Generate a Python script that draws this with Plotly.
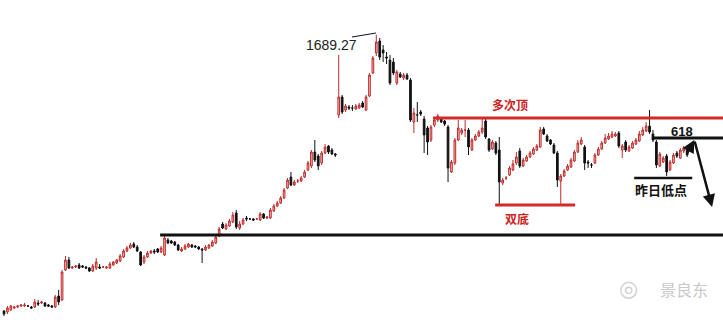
import plotly.graph_objects as go

open_ = [1413,1412,1414,1416,1417,1418,1418,1418,1417,1417,
         1421,1421,1421,1419,1418,1417,1428,1424,1454,1464,
         1456,1457,1459,1458,1457,1456,1453,1456,1457,1457,
         1456,1456,1459,1461,1463,1467,1473,1476,1480,1477,
         1472,1462,1467,1471,1473,1475,1472,1469,1484,1483,
         1482,1479,1473,1475,1477,1479,1478,1477,1475,1474,
         1476,1478,1481,1488,1500,1495,1498,1502,1511,1496,
         1500,1506,1505,1505,1505,1504,1510,1506,1506,1513,
         1518,1521,1526,1536,1547,1539,1543,1543,1547,1554,
         1558,1572,1568,1561,1571,1578,1574,1570,1609,1627,
         1614,1617,1616,1615,1616,1621,1614,1628,1651,1671,
         1683,1674,1667,1664,1662,1641,1650,1646,1649,1644,
         1602,1609,1612,1605,1596,1584,1599,1604,1606,1603,
         1597,1552,1561,1584,1591,1594,1594,1574,1584,1588,
         1592,1603,1585,1575,1581,1574,1541,1546,1549,1554,
         1561,1573,1558,1563,1567,1570,1574,1577,1595,1588,
         1584,1579,1571,1543,1548,1554,1557,1563,1572,1580,
         1577,1562,1559,1561,1569,1575,1581,1585,1587,1588,
         1591,1574,1582,1573,1576,1580,1583,1589,1593,1598,
         1590,1582,1558,1562,1568,1554,1561,1571,1566,1573,1574]

close = [1410,1416,1418,1417,1418,1419,1419,1418,1416,1422,
         1420,1422,1418,1418,1417,1427,1422,1452,1464,1456,
         1457,1458,1456,1457,1456,1453,1458,1462,1456,1457,
         1457,1460,1462,1464,1468,1473,1476,1479,1477,1473,
         1459,1467,1471,1473,1472,1472,1476,1486,1481,1481,
         1479,1474,1475,1478,1480,1477,1477,1475,1474,1477,
         1479,1482,1487,1495,1496,1499,1503,1509,1497,1500,
         1504,1505,1505,1504,1505,1510,1506,1507,1514,1518,
         1521,1526,1534,1544,1539,1542,1543,1546,1552,1561,
         1572,1564,1558,1571,1577,1572,1570,1569,1627,1612,
         1618,1616,1616,1618,1619,1617,1627,1649,1666,1682,
         1667,1671,1666,1641,1651,1652,1647,1649,1645,1604,
         1611,1609,1610,1589,1582,1597,1604,1608,1602,1600,
         1556,1562,1584,1596,1594,1594,1577,1584,1588,1592,
         1596,1587,1574,1582,1571,1542,1544,1546,1556,1560,
         1567,1558,1564,1567,1571,1575,1578,1594,1590,1583,
         1580,1571,1544,1548,1553,1558,1564,1572,1581,1584,
         1561,1561,1559,1569,1575,1581,1586,1588,1590,1590,
         1578,1578,1574,1577,1581,1584,1590,1594,1598,1592,
         1584,1559,1570,1566,1552,1562,1569,1568,1574,1576,1569]

high = [1414,1418,1419,1418,1419,1420,1421,1419,1418,1425,
        1424,1423,1422,1420,1419,1429,1434,1454,1468,1467,
        1458,1459,1461,1459,1458,1457,1460,1466,1460,1458,
        1458,1462,1463,1465,1470,1475,1478,1481,1482,1479,
        1473,1469,1473,1474,1475,1476,1478,1488,1486,1484,
        1483,1480,1477,1480,1481,1480,1479,1478,1476,1479,
        1480,1484,1489,1497,1502,1501,1505,1512,1514,1503,
        1506,1508,1506,1506,1506,1512,1511,1508,1516,1520,
        1523,1528,1536,1546,1552,1544,1545,1548,1554,1563,
        1574,1584,1570,1573,1580,1579,1576,1571,1669,1629,
        1620,1619,1619,1620,1621,1623,1629,1651,1668,1689.27,
        1686,1679,1672,1669,1666,1654,1652,1651,1651,1646,
        1616,1622,1614,1608,1598,1599,1606,1610,1607,1604,
        1599,1564,1586,1604,1596,1604,1596,1586,1590,1594,
        1606,1606,1586,1584,1583,1587,1546,1548,1558,1564,
        1572,1576,1566,1569,1573,1577,1580,1597,1597,1590,
        1585,1581,1573,1550,1555,1560,1566,1574,1584,1587,
        1579,1564,1561,1571,1577,1583,1590,1591,1593,1592,
        1593,1580,1584,1579,1583,1586,1593,1597,1602,1614,
        1594,1584,1572,1568,1570,1564,1571,1573,1576,1578,1576]

low = [1408,1410,1413,1415,1416,1417,1417,1417,1415,1416,
       1418,1420,1417,1417,1416,1416,1419,1423,1453,1455,
       1455,1456,1455,1456,1455,1452,1452,1454,1455,1456,
       1455,1455,1458,1460,1462,1466,1472,1475,1476,1472,
       1458,1460,1466,1470,1470,1471,1471,1468,1480,1480,
       1478,1473,1472,1474,1476,1476,1476,1474,1461,1473,
       1475,1477,1480,1487,1495,1494,1497,1501,1495,1494,
       1499,1503,1504,1503,1504,1503,1505,1505,1505,1512,
       1517,1520,1525,1535,1538,1538,1541,1542,1546,1553,
       1556,1562,1554,1559,1570,1570,1569,1567,1606,1610,
       1612,1614,1613,1614,1615,1616,1613,1627,1650,1668,
       1664,1662,1660,1639,1649,1639,1646,1644,1644,1602,
       1591,1602,1608,1571,1569,1582,1597,1602,1601,1598,
       1542,1551,1559,1583,1589,1587,1569,1573,1583,1587,
       1590,1585,1572,1574,1569,1519,1539,1544,1548,1553,
       1559,1556,1557,1562,1566,1569,1573,1576,1589,1582,
       1579,1570,1537,1520,1547,1553,1556,1562,1571,1579,
       1554,1556,1556,1560,1568,1574,1580,1584,1586,1587,
       1576,1566,1572,1572,1575,1579,1582,1588,1592,1590,
       1582,1556,1557,1561,1548,1553,1560,1566,1565,1571,1567]

bars = list(range(len(open_)))

peak_label = "1689.27"
resist_label = "多次顶"
bottom_label = "双底"
fib_label = "618"
lowday_label = "昨日低点"
watermark = "景良东"

RED = "#c02a2a"
BLK = "#111111"

fig = go.Figure(go.Candlestick(
    x=bars, open=open_, high=high, low=low, close=close,
    increasing=dict(line=dict(color=RED, width=1), fillcolor="#eec4c4"),
    decreasing=dict(line=dict(color=BLK, width=1), fillcolor=BLK),
    whiskerwidth=0, showlegend=False, hoverinfo="skip",
))

X_END = 210.5
shapes = [
    dict(type="line", x0=45.7, x1=X_END, y0=1489, y1=1489, line=dict(color=BLK, width=3)),
    dict(type="line", x0=125.6, x1=X_END, y0=1606, y1=1606, line=dict(color="#d42a2a", width=3)),
    dict(type="line", x0=143.8, x1=167.2, y0=1519, y1=1519, line=dict(color="#d42a2a", width=3)),
    dict(type="line", x0=189.7, x1=X_END, y0=1586, y1=1586, line=dict(color=BLK, width=3)),
    dict(type="line", x0=184.5, x1=201.5, y0=1546, y1=1546, line=dict(color=BLK, width=2.5)),
    dict(type="line", x0=101.9, x1=108.9, y0=1687, y1=1691, line=dict(color=BLK, width=1)),
]

annotations = [
    dict(x=95.8, y=1679, text=peak_label, showarrow=False,
         font=dict(family="Liberation Sans, Arial", size=14, color="#222")),
    dict(x=148.2, y=1620, text="<b>" + resist_label + "</b>", showarrow=False,
         font=dict(family="Noto Sans CJK SC", size=12, color="#cc2222")),
    dict(x=150.2, y=1506, text="<b>" + bottom_label + "</b>", showarrow=False,
         font=dict(family="Noto Sans CJK SC", size=12, color="#cc2222")),
    dict(x=198.5, y=1593, text="<b>" + fib_label + "</b>", showarrow=False,
         font=dict(family="Liberation Sans, Arial", size=13, color=BLK)),
    dict(x=192.4, y=1535, text="<b>" + lowday_label + "</b>", showarrow=False,
         font=dict(family="Noto Sans CJK SC", size=13, color=BLK)),
    dict(x=202.1, y=1584, ax=199.7, ay=1569, xref="x", yref="y", axref="x", ayref="y",
         text="", showarrow=True, arrowhead=2, arrowsize=1, arrowwidth=2.5, arrowcolor=BLK),
    dict(x=207.3, y=1517, ax=202.1, ay=1584, xref="x", yref="y", axref="x", ayref="y",
         text="", showarrow=True, arrowhead=2, arrowsize=1, arrowwidth=2.5, arrowcolor=BLK),
    dict(x=0.982, y=0.068, xref="paper", yref="paper", xanchor="right", text=watermark,
         showarrow=False, font=dict(family="Noto Sans CJK SC", size=16, color="#c8c8c8")),
    dict(x=0.885, y=0.068, xref="paper", yref="paper", text="◎", showarrow=False,
         font=dict(family="DejaVu Sans", size=22, color="#cfcfcf")),
]

fig.update_layout(
    width=723, height=325, margin=dict(l=0, r=0, t=0, b=0),
    paper_bgcolor="white", plot_bgcolor="white",
    xaxis=dict(range=[-1.17, X_END], visible=False, rangeslider=dict(visible=False), fixedrange=True),
    yaxis=dict(range=[1399, 1724], visible=False, fixedrange=True),
    shapes=shapes, annotations=annotations, showlegend=False,
)

fig.write_html("out.html")
